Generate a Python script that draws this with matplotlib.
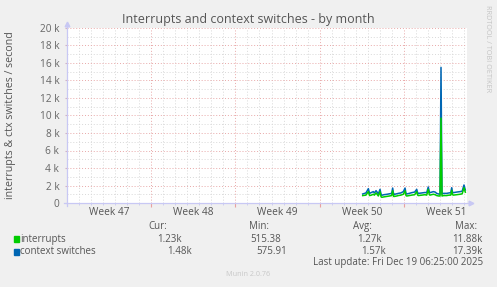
import matplotlib
matplotlib.use("Agg")
import matplotlib.pyplot as plt
from matplotlib.ticker import FuncFormatter, MultipleLocator

plt.rcParams['font.family'] = ['Open Sans', 'DejaVu Sans']

# days since Mon Nov 17 00:00 (left edge of the graph)
days_shown = 33.25
week_edges = [7, 14, 21, 28]
week_mid = [3.5, 10.5, 17.5, 24.5, 31.5]
week_labels = ["Week 47", "Week 48", "Week 49", "Week 50", "Week 51"]

t = [24.58, 24.85, 25.05, 25.15, 25.30, 25.46, 25.55, 25.69, 25.80, 25.88,
     26.02, 26.10, 26.16, 26.35, 26.57, 26.80, 26.99, 27.07, 27.15, 27.21,
     27.40, 27.54, 27.75, 27.96, 28.10, 28.18, 28.24, 28.45, 28.65, 28.90,
     29.07, 29.15, 29.20, 29.50, 29.75, 29.90, 30.03, 30.12, 30.17, 30.45,
     30.60, 30.73, 30.90, 31.01, 31.09, 31.17, 31.30, 31.56, 31.75, 31.90,
     31.98, 32.05, 32.11, 32.40, 32.67, 32.85, 33.00, 33.11]

ctx_switches = [1030, 1150, 1640, 1100, 1200, 1300, 1150, 1410, 1200, 1030,
                1560, 1050, 880, 950, 990, 1050, 1100, 1710, 1000, 990,
                1050, 1100, 1150, 1300, 1710, 1100, 1030, 1100, 1180, 1250,
                1560, 1150, 1100, 1150, 1200, 1180, 1830, 1250, 1180, 1300,
                1250, 1100, 1030, 1030, 15500, 1050, 1100, 1100, 1150, 1180,
                1750, 1200, 1180, 1250, 1300, 1350, 2060, 1490]

interrupts = [850, 900, 1300, 850, 900, 1000, 900, 1150, 950, 800,
              1300, 750, 650, 700, 750, 800, 850, 1400, 750, 750,
              800, 850, 900, 1000, 1400, 850, 800, 850, 900, 950,
              1300, 900, 850, 900, 950, 900, 1550, 950, 900, 1000,
              950, 850, 800, 800, 9700, 800, 850, 850, 900, 900,
              1450, 950, 900, 950, 1000, 1050, 1750, 1230]

series_names = ["interrupts", "context switches"]
series_colors = ["#00CC00", "#0066B3"]
stat_heads = ["Cur:", "Min:", "Avg:", "Max:"]
stats = [["1.23k", "515.38", "1.27k", "11.88k"],
         ["1.48k", "575.91", "1.57k", "17.39k"]]

W, H = 497, 287
fig = plt.figure(figsize=(W / 100, H / 100), dpi=100, facecolor="#F0F0F0")
ax = fig.add_axes([67 / W, 1 - 203 / H, 400 / W, 175 / H], facecolor="white")

ax.plot(t, ctx_switches, color=series_colors[1], lw=1.1, zorder=3)
ax.plot(t, interrupts, color=series_colors[0], lw=1.1, zorder=4)

ax.set_xlim(0, days_shown)
ax.set_ylim(0, 20000)

# grid
ax.yaxis.set_major_locator(MultipleLocator(2000))
ax.yaxis.set_minor_locator(MultipleLocator(1000))
ax.xaxis.set_major_locator(plt.FixedLocator(week_edges))
ax.xaxis.set_minor_locator(MultipleLocator(1))
ax.grid(which="minor", color="#D8D8D8", lw=0.7, ls=(0, (1, 2)), zorder=1)
ax.grid(which="major", color="#E8A8A8", lw=0.7, ls=(0, (1, 2)), zorder=2)
ax.set_axisbelow(True)

ax.yaxis.set_major_formatter(FuncFormatter(lambda v, p: "0" if v == 0 else f"{int(v / 1000)} k"))
ax.tick_params(axis="y", which="major", length=1.5, pad=4, color="#D0B0C8",
               labelsize=7.3, labelcolor="#666666")
ax.tick_params(axis="y", which="minor", length=0)
ax.tick_params(axis="x", which="major", length=3, color="#E8A0A0", labelbottom=False)
ax.tick_params(axis="x", which="minor", length=1.5, color="#C8C8F0")

for x, lab in zip(week_mid, week_labels):
    ax.text(x, -0.052, lab, transform=ax.get_xaxis_transform(), ha="center",
            va="center", fontsize=7.3, color="#555555")

# axes with arrows
for s in ax.spines.values():
    s.set_visible(False)
axc = "#C8C8F4"
ax.plot([0, 0], [-0.015, 1.02], transform=ax.transAxes, color=axc, lw=0.9, clip_on=False, zorder=5)
ax.plot([-0.008, 1.005], [0, 0], transform=ax.transAxes, color=axc, lw=0.9, clip_on=False, zorder=5)
ax.plot([0], [1.024], marker="^", ms=3.4, color=axc, transform=ax.transAxes, clip_on=False, zorder=5)
ax.plot([1.009], [0], marker=">", ms=3.4, color=axc, transform=ax.transAxes, clip_on=False, zorder=5)

def px(x, y):
    return x / W, 1 - y / H

fig.text(*px(248, 20), "Interrupts and context switches - by month", ha="center",
         va="center", fontsize=9.0, color="#555555")
fig.text(*px(11, 115), "interrupts & ctx switches / second", rotation=90,
         ha="center", va="center", fontsize=7.7, color="#555555")
fig.text(*px(487, 5), "RRDTOOL / TOBI OETIKER", rotation=270, ha="center",
         va="top", fontsize=5.2, color="#C4C4C4")

# legend block
head_right = [167, 269, 372, 477]
val_right = [[182, 281, 382, 483], [192, 287, 386, 483]]
row_y = [239.3, 251.7]
for x, h in zip(head_right, stat_heads):
    fig.text(*px(x, 226.7), h, ha="right", va="center", fontsize=7, color="#555555")
for i, name in enumerate(series_names):
    fig.patches.append(plt.Rectangle(px(14, row_y[i] + 3), 5 / W, 6 / H,
                                     transform=fig.transFigure, color=series_colors[i]))
    fig.text(*px(20, row_y[i]), name, ha="left", va="center", fontsize=7, color="#555555")
    for x, v in zip(val_right[i], stats[i]):
        fig.text(*px(x, row_y[i]), v, ha="right", va="center", fontsize=7, color="#555555")
fig.text(*px(483, 263), "Last update: Fri Dec 19 06:25:00 2025", ha="right",
         va="center", fontsize=7, color="#555555")
fig.text(*px(248.5, 274.5), "Munin 2.0.76", ha="center", va="center",
         fontsize=5.2, color="#C8C8C8")

fig.savefig("out.png", dpi=100, facecolor=fig.get_facecolor())
